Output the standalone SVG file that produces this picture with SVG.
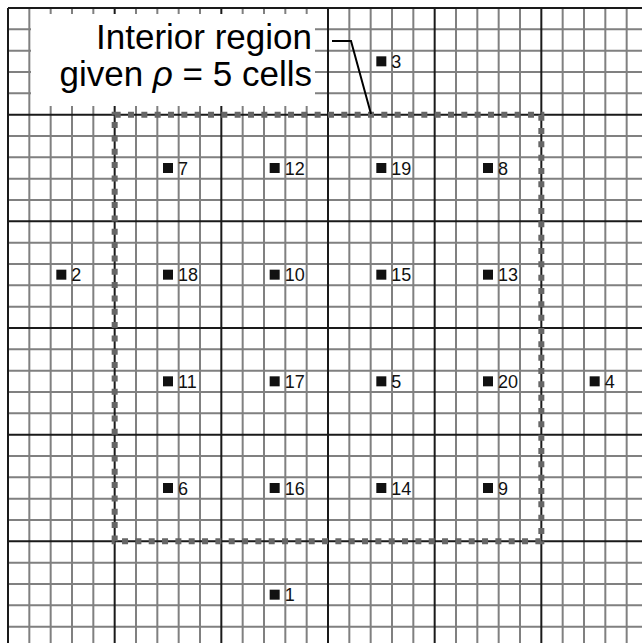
<svg xmlns="http://www.w3.org/2000/svg" width="642" height="643" viewBox="0 0 642 643">
<style>
.minor{stroke:#808080;stroke-width:2;fill:none}
.major{stroke:#1a1a1a;stroke-width:2;fill:none}
.pt{fill:#111}
.lbl{font-family:"Liberation Sans Narrow","Liberation Sans",Arial,sans-serif;font-size:18px;fill:#111}
.title{font-family:"Liberation Sans",Arial,sans-serif;font-size:35px;fill:#000;text-anchor:end}
</style>
<defs>
<rect id="sq" x="-5" y="-5" width="10" height="10" class="pt"/>
</defs>
<rect width="642" height="643" fill="#fff"/>
<g id="grid">
<path class="minor" d="M29.33 8V643M50.67 8V643M72 8V643M93.33 8V643M136 8V643M157.33 8V643M178.67 8V643M200 8V643M242.67 8V643M264 8V643M285.33 8V643M306.67 8V643M349.33 8V643M370.67 8V643M392 8V643M413.33 8V643M456 8V643M477.33 8V643M498.67 8V643M520 8V643M562.67 8V643M584 8V643M605.33 8V643M626.67 8V643"/>
<path class="minor" d="M8 29.33H642M8 50.67H642M8 72H642M8 93.33H642M8 136H642M8 157.33H642M8 178.67H642M8 200H642M8 242.67H642M8 264H642M8 285.33H642M8 306.67H642M8 349.33H642M8 370.67H642M8 392H642M8 413.33H642M8 456H642M8 477.33H642M8 498.67H642M8 520H642M8 562.67H642M8 584H642M8 605.33H642M8 626.67H642"/>
<path class="major" d="M8 8V643M114.67 8V643M221.33 8V643M328 8V643M434.67 8V643M541.33 8V643M8 8H642M8 114.67H642M8 221.33H642M8 328H642M8 434.67H642M8 541.33H642"/>
</g>
<g id="label-box">
<rect x="31" y="14" width="284" height="92" fill="#fff"/>
<text class="title" x="312" y="48.5">Interior region</text>
<text class="title" x="312" y="86">given <tspan font-style="italic">ρ</tspan> = 5 cells</text>
</g>
<g id="interior-region">
<rect x="114.67" y="114.67" width="426.67" height="426.67" fill="none" stroke="#666" stroke-width="6" stroke-dasharray="6 7.333"/>
</g>
<g id="connectors">
<polyline points="332,41 351,41 371,114" fill="none" stroke="#000" stroke-width="2"/>
</g>
<g id="n3"><use href="#sq" x="381.33" y="61.33"/><text class="lbl" x="391.33" y="67.5">3</text></g>
<g id="n7"><use href="#sq" x="168" y="168"/><text class="lbl" x="178" y="174.5">7</text></g>
<g id="n12"><use href="#sq" x="274.67" y="168"/><text class="lbl" x="284.67" y="174.5">12</text></g>
<g id="n19"><use href="#sq" x="381.33" y="168"/><text class="lbl" x="391.33" y="174.5">19</text></g>
<g id="n8"><use href="#sq" x="488" y="168"/><text class="lbl" x="498" y="174.5">8</text></g>
<g id="n2"><use href="#sq" x="61.33" y="274.67"/><text class="lbl" x="71.33" y="281">2</text></g>
<g id="n18"><use href="#sq" x="168" y="274.67"/><text class="lbl" x="178" y="281">18</text></g>
<g id="n10"><use href="#sq" x="274.67" y="274.67"/><text class="lbl" x="284.67" y="281">10</text></g>
<g id="n15"><use href="#sq" x="381.33" y="274.67"/><text class="lbl" x="391.33" y="281">15</text></g>
<g id="n13"><use href="#sq" x="488" y="274.67"/><text class="lbl" x="498" y="281">13</text></g>
<g id="n11"><use href="#sq" x="168" y="381.33"/><text class="lbl" x="178" y="387.5">11</text></g>
<g id="n17"><use href="#sq" x="274.67" y="381.33"/><text class="lbl" x="284.67" y="387.5">17</text></g>
<g id="n5"><use href="#sq" x="381.33" y="381.33"/><text class="lbl" x="391.33" y="387.5">5</text></g>
<g id="n20"><use href="#sq" x="488" y="381.33"/><text class="lbl" x="498" y="387.5">20</text></g>
<g id="n4"><use href="#sq" x="594.67" y="381.33"/><text class="lbl" x="604.67" y="387.5">4</text></g>
<g id="n6"><use href="#sq" x="168" y="488"/><text class="lbl" x="178" y="494.5">6</text></g>
<g id="n16"><use href="#sq" x="274.67" y="488"/><text class="lbl" x="284.67" y="494.5">16</text></g>
<g id="n14"><use href="#sq" x="381.33" y="488"/><text class="lbl" x="391.33" y="494.5">14</text></g>
<g id="n9"><use href="#sq" x="488" y="488"/><text class="lbl" x="498" y="494.5">9</text></g>
<g id="n1"><use href="#sq" x="274.67" y="594.67"/><text class="lbl" x="284.67" y="601">1</text></g>
</svg>
